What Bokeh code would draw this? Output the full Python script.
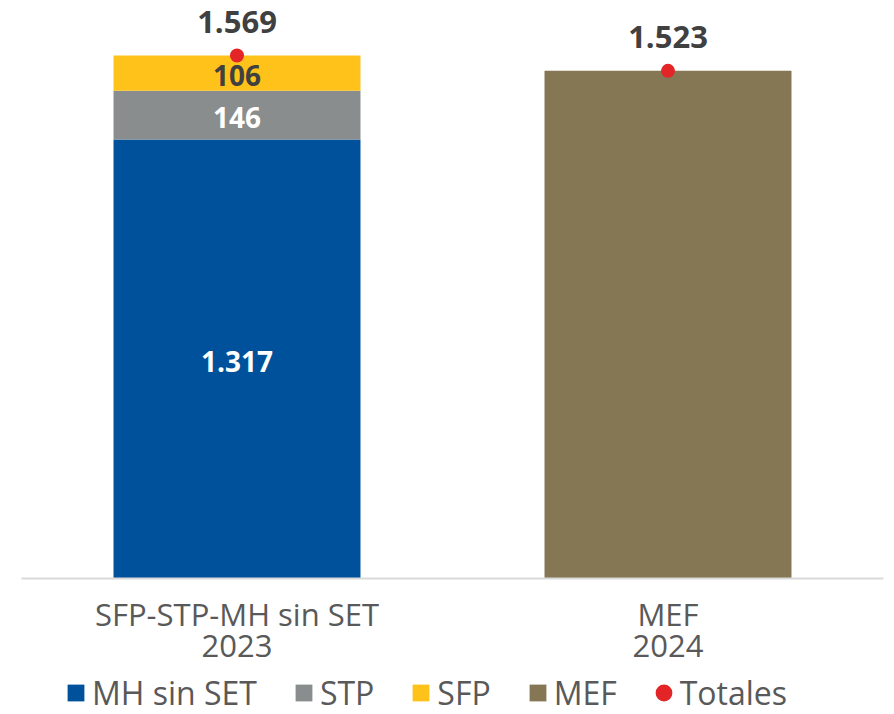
from bokeh.plotting import figure
from bokeh.layouts import column
from bokeh.models import FactorRange, Legend, LegendItem, ColumnDataSource, Range1d
from bokeh.core.properties import value
from bokeh.embed import file_html
from bokeh.resources import INLINE

# ---- data ----
categories = ["SFP-STP-MH sin SET\n2023", "MEF\n2024"]
mh_sin_set = [1317, 0]
stp = [146, 0]
sfp = [106, 0]
mef = [0, 1523]
totales = [1569, 1523]

series_names = ["MH sin SET", "STP", "SFP", "MEF"]
colors = ["#00519B", "#8A8D8E", "#FFC21B", "#857654"]
label_colors = ["#FFFFFF", "#FFFFFF", "#404040", "#404040"]
dot_color = "#E42527"

FONT = "Open Sans"


def fmt(v):
    return f"{v:,}".replace(",", ".")


p = figure(x_range=FactorRange(factors=categories, range_padding=0),
           y_range=Range1d(0, 1734),
           width=894, height=670, output_backend="svg", toolbar_location=None,
           min_border_left=21, min_border_right=11, min_border_top=0, min_border_bottom=92)

data = {"cat": categories, "MH sin SET": mh_sin_set, "STP": stp, "SFP": sfp, "MEF": mef}
src = ColumnDataSource(data)
p.vbar_stack(series_names, x="cat", width=0.573, color=colors, source=src, line_color=None)

# segment labels
bottoms = [0, 0]
seg_x, seg_y, seg_t, seg_c = [], [], [], []
for name, lc in zip(series_names, label_colors):
    vals = data[name]
    for i, v in enumerate(vals):
        if v > 0 and name != "MEF":
            seg_x.append(categories[i])
            seg_y.append(bottoms[i] + v / 2)
            seg_t.append(fmt(v))
            seg_c.append(lc)
        bottoms[i] += v
p.text(x=seg_x, y=seg_y, text=seg_t, text_color=seg_c, text_font=value(FONT),
       text_font_style="bold", text_font_size="28px", text_align="center",
       text_baseline="middle", y_offset=2)

# totals
tsrc = ColumnDataSource(dict(cat=categories, tot=totales, lab=[fmt(t) for t in totales]))
p.scatter(x="cat", y="tot", source=tsrc, size=14, color=dot_color, line_color=None)
p.text(x="cat", y="tot", text="lab", source=tsrc, y_offset=-34, text_color="#404040",
       text_font=value(FONT), text_font_style="bold", text_font_size="31px",
       text_align="center", text_baseline="middle")

# axes
p.yaxis.visible = False
p.xgrid.visible = False
p.ygrid.visible = False
p.outline_line_color = None
xa = p.xaxis[0]
xa.axis_line_color = "#D9D9D9"
xa.axis_line_width = 2
xa.major_tick_line_color = None
xa.minor_tick_line_color = None
xa.major_label_text_font = FONT
xa.major_label_text_font_size = "31px"
xa.major_label_text_color = "#595959"
xa.major_label_text_line_height = 0.755
xa.major_label_standoff = 8

# ---- legend strip (its dummy glyphs sit outside the visible range) ----
lf = figure(x_range=Range1d(0, 1), y_range=Range1d(0, 1), width=894, height=44,
            output_backend="svg", toolbar_location=None,
            min_border_left=0, min_border_right=0, min_border_top=0, min_border_bottom=0)
lf.xaxis.visible = False
lf.yaxis.visible = False
lf.xgrid.visible = False
lf.ygrid.visible = False
lf.outline_line_color = None

items = []
for n, c in zip(series_names, colors):
    r = lf.vbar(x=[-10], top=[-10], bottom=[-11], width=0.5, color=c, line_color=None)
    items.append(LegendItem(label=n, renderers=[r]))
rd = lf.ellipse(x=[-10], y=[-10], width=14, height=14, width_units="screen",
                height_units="screen", color=dot_color, line_color=None)
items.append(LegendItem(label="Totales", renderers=[rd]))

legend = Legend(items=items, orientation="horizontal", location=(44, 0),
                label_text_font=FONT, label_text_font_size="32px",
                label_text_color="#595959", glyph_width=21, glyph_height=21,
                label_standoff=6, spacing=36, padding=0, margin=0,
                border_line_alpha=0, background_fill_alpha=0)
lf.add_layout(legend, "center")

layout = column(p, lf, spacing=0)
open("out.html", "w").write(file_html(layout, INLINE))
